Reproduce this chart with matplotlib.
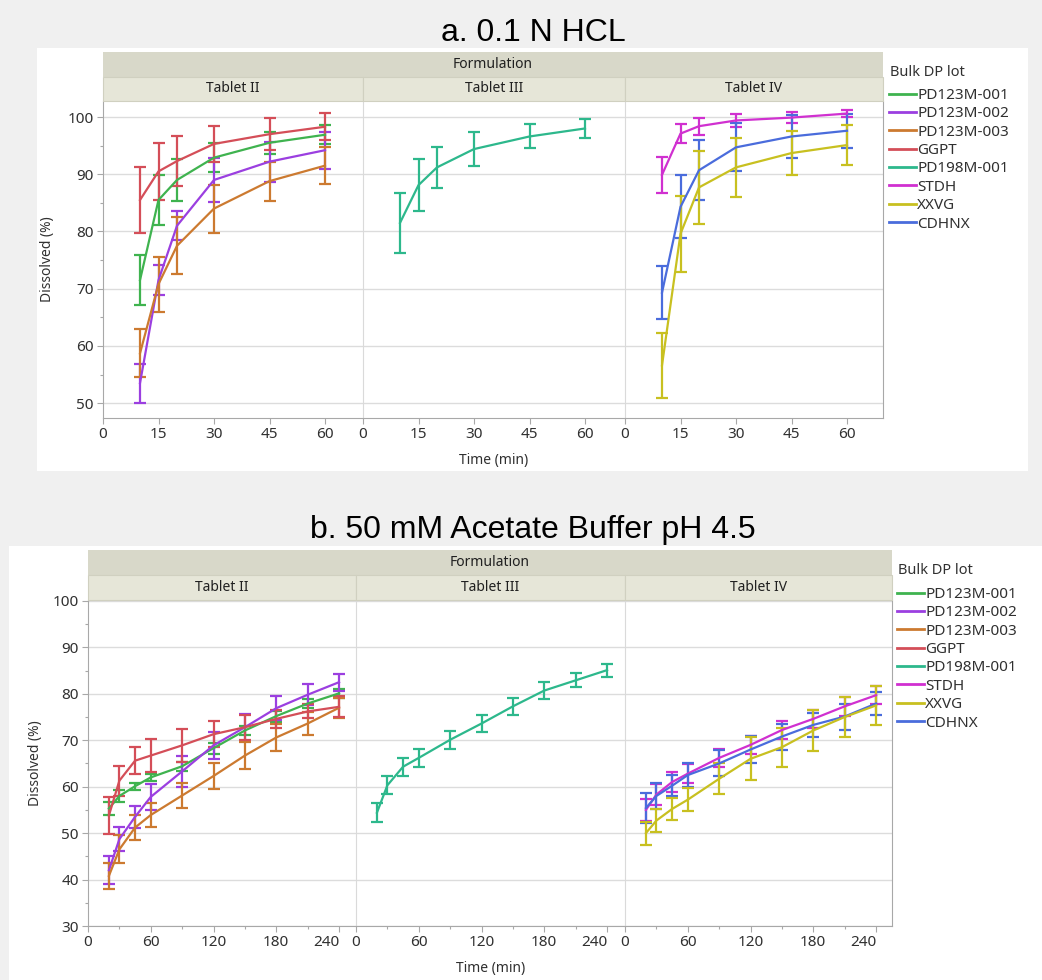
import numpy as np
import matplotlib
matplotlib.use("Agg")
import matplotlib.pyplot as plt
from matplotlib.patches import Rectangle
from matplotlib.lines import Line2D

plt.rcParams["font.family"] = ["Noto Sans", "DejaVu Sans"]

W, H = 1042, 980

lots = ["PD123M-001", "PD123M-002", "PD123M-003", "GGPT", "PD198M-001", "STDH", "XXVG", "CDHNX"]
lot_colors = ["#3fb34f", "#9b3fe0", "#cc7a30", "#d44e58", "#2db88c", "#d030d0", "#c8c020", "#4a6cdc"]
tablets = ["Tablet II", "Tablet III", "Tablet IV"]
tablet_lots = [["PD123M-001", "PD123M-002", "PD123M-003", "GGPT"], ["PD198M-001"], ["STDH", "CDHNX", "XXVG"]]

# a. 0.1 N HCL  (mean, +/- error)
t_hcl = [10, 15, 20, 30, 45, 60]
hcl_001 = [71.5, 85.5, 89.0, 92.9, 95.5, 96.9]
hcl_001_err = [4.4, 4.3, 3.6, 2.5, 1.9, 1.7]
hcl_002 = [53.5, 71.5, 81.0, 89.0, 92.2, 94.2]
hcl_002_err = [3.4, 2.6, 2.5, 3.8, 3.5, 3.2]
hcl_003 = [58.7, 70.8, 77.5, 84.0, 88.8, 91.5]
hcl_003_err = [4.2, 4.8, 5.0, 4.2, 3.4, 3.2]
hcl_ggpt = [85.5, 90.5, 92.3, 95.3, 97.0, 98.3]
hcl_ggpt_err = [5.7, 5.0, 4.3, 3.1, 2.8, 2.4]
hcl_198 = [81.5, 88.1, 91.2, 94.4, 96.6, 98.0]
hcl_198_err = [5.3, 4.6, 3.6, 3.0, 2.1, 1.7]
hcl_stdh = [89.9, 97.1, 98.4, 99.4, 99.9, 100.6]
hcl_stdh_err = [3.2, 1.7, 1.5, 1.1, 1.0, 0.6]
hcl_xxvg = [56.6, 79.6, 87.7, 91.2, 93.7, 95.1]
hcl_xxvg_err = [5.7, 6.6, 6.4, 5.1, 3.8, 3.5]
hcl_cdhnx = [69.3, 84.3, 90.7, 94.7, 96.6, 97.6]
hcl_cdhnx_err = [4.6, 5.5, 5.2, 4.2, 3.8, 3.0]

# b. 50 mM Acetate Buffer pH 4.5
t_ace = [20, 30, 45, 60, 90, 120, 150, 180, 210, 240]
ace_001 = [55.3, 58.0, 60.1, 62.0, 64.4, 68.3, 72.1, 75.2, 77.9, 80.1]
ace_001_err = [1.5, 1.2, 0.8, 0.8, 1.0, 1.2, 1.0, 1.2, 1.0, 0.9]
ace_002 = [42.0, 48.7, 53.5, 57.8, 63.3, 68.9, 72.8, 76.9, 79.8, 82.5]
ace_002_err = [3.0, 2.6, 2.4, 2.8, 3.4, 2.9, 2.9, 2.6, 2.3, 1.8]
ace_003 = [40.8, 46.5, 51.2, 53.9, 58.1, 62.3, 66.7, 70.6, 73.6, 77.0]
ace_003_err = [2.8, 3.0, 2.6, 2.6, 2.7, 2.8, 2.9, 2.9, 2.4, 2.2]
ace_ggpt = [53.8, 61.3, 65.6, 66.7, 68.9, 71.3, 72.8, 74.6, 76.2, 77.2]
ace_ggpt_err = [4.0, 3.2, 2.9, 3.6, 3.6, 2.8, 2.7, 2.0, 1.5, 2.3]
ace_198 = [54.4, 60.3, 64.3, 66.2, 70.1, 73.6, 77.3, 80.7, 82.9, 85.1]
ace_198_err = [2.0, 1.9, 1.9, 1.9, 1.9, 1.9, 1.9, 1.8, 1.5, 1.4]
ace_stdh = [55.0, 58.3, 61.0, 62.8, 66.2, 69.0, 72.2, 74.6, 77.3, 79.7]
ace_stdh_err = [2.3, 2.3, 2.1, 2.1, 2.0, 2.0, 1.9, 1.9, 2.0, 2.0]
ace_xxvg = [50.0, 52.7, 55.2, 57.2, 61.7, 66.0, 68.5, 72.1, 75.0, 77.5]
ace_xxvg_err = [2.5, 2.4, 2.4, 2.5, 3.3, 4.6, 4.2, 4.4, 4.4, 4.2]
ace_cdhnx = [55.4, 58.0, 60.2, 62.5, 65.0, 68.0, 70.8, 73.3, 75.1, 77.9]
ace_cdhnx_err = [3.3, 2.9, 2.3, 2.5, 2.8, 2.9, 2.8, 2.6, 2.8, 2.5]

hcl = {"PD123M-001": (hcl_001, hcl_001_err), "PD123M-002": (hcl_002, hcl_002_err),
       "PD123M-003": (hcl_003, hcl_003_err), "GGPT": (hcl_ggpt, hcl_ggpt_err),
       "PD198M-001": (hcl_198, hcl_198_err), "STDH": (hcl_stdh, hcl_stdh_err),
       "XXVG": (hcl_xxvg, hcl_xxvg_err), "CDHNX": (hcl_cdhnx, hcl_cdhnx_err)}
ace = {"PD123M-001": (ace_001, ace_001_err), "PD123M-002": (ace_002, ace_002_err),
       "PD123M-003": (ace_003, ace_003_err), "GGPT": (ace_ggpt, ace_ggpt_err),
       "PD198M-001": (ace_198, ace_198_err), "STDH": (ace_stdh, ace_stdh_err),
       "XXVG": (ace_xxvg, ace_xxvg_err), "CDHNX": (ace_cdhnx, ace_cdhnx_err)}
color_of = dict(zip(lots, lot_colors))

fig = plt.figure(figsize=(W / 100, H / 100), dpi=100, facecolor="#f0f0f0")


def fx(x):
    return x / W


def fy(y):
    return 1 - y / H


def rect(x0, y0, x1, y1, **kw):
    fig.add_artist(Rectangle((fx(x0), fy(y1)), fx(x1) - fx(x0), fy(y0) - fy(y1),
                             transform=fig.transFigure, **kw))


def block(times, data, xedges, ytop, ybot, strip_top, ylim, yticks, xticks, xminor, px_per_x,
          ylab_x, xlab_y, box, last_right=False):
    rect(*box, facecolor="white", edgecolor="none", zorder=-5)
    # Formulation strip
    rect(xedges[0], strip_top, xedges[-1], strip_top + 25, facecolor="#d8d8c9", edgecolor="none")
    fig.text(fx((xedges[0] + xedges[-1]) / 2), fy(strip_top + 12.5), "Formulation",
             ha="center", va="center", fontsize=10, fontweight="bold", color="#202020")
    axes = []
    for i, tab in enumerate(tablets):
        x0, x1 = xedges[i], xedges[i + 1]
        rect(x0, strip_top + 25, x1, ytop, facecolor="#e6e6d8", edgecolor="#d0d0c0", linewidth=0.8)
        fig.text(fx((x0 + x1) / 2), fy((strip_top + 25 + ytop) / 2), tab,
                 ha="center", va="center", fontsize=10, color="#202020")
        ax = fig.add_axes([fx(x0), fy(ybot), fx(x1) - fx(x0), fy(ytop) - fy(ybot)])
        ax.set_xlim(0, (x1 - x0) / px_per_x)
        ax.set_ylim(*ylim)
        ax.set_xticks(xticks)
        ax.set_xticks(xminor, minor=True)
        ax.set_yticks(yticks)
        ax.set_yticks(np.arange(yticks[0] + 5, yticks[-1], 10), minor=True)
        ax.grid(axis="y", which="major", color="#dcdcdc", linewidth=1.0)
        ax.set_axisbelow(True)
        for s in ["top", "right"]:
            ax.spines[s].set_visible(False)
        ax.spines["bottom"].set_color("#a8a8a8")
        ax.spines["left"].set_color("#a8a8a8" if i == 0 else "#dadada")
        if i == 2:
            ax.spines["right"].set_visible(True)
            ax.spines["right"].set_color("#a8a8a8")
        ax.tick_params(axis="both", which="major", direction="out", length=4.5, width=0.8,
                       color="#a8a8a8", labelsize=11, labelcolor="#303030", pad=2)
        ax.tick_params(axis="both", which="minor", direction="out", length=2.5, width=0.8,
                       color="#a8a8a8")
        if i > 0:
            ax.tick_params(axis="y", which="both", left=False, labelleft=False)
        if last_right:
            ax.get_xticklabels()[-1].set_horizontalalignment("right")
        for lot in tablet_lots[i]:
            m, e = data[lot]
            ax.errorbar(times, m, yerr=e, color=color_of[lot], linewidth=1.6,
                        elinewidth=1.6, capsize=4, capthick=1.6, clip_on=False)
        axes.append(ax)
    fig.text(fx(ylab_x), fy((ytop + ybot) / 2), "Dissolved (%)", rotation=90,
             ha="center", va="center", fontsize=10, color="#303030")
    fig.text(fx((xedges[1] + xedges[2]) / 2), fy(xlab_y), "Time (min)",
             ha="center", va="center", fontsize=10, color="#303030")
    return axes


block(t_hcl, hcl, [103, 363, 625, 883], 101, 418, 52, (47.4, 102.8), np.arange(50, 101, 10),
      [0, 15, 30, 45, 60], [], 3.7, 47, 460, (37, 48, 1028, 471))
block(t_ace, ace, [88, 356, 625, 892], 600, 926, 550, (30, 100.2), np.arange(30, 101, 10),
      [0, 60, 120, 180, 240], [30, 90, 150, 210], 1.046, 35, 968, (9, 546, 1042, 980),
      last_right=True)

fig.text(fx(533), fy(33), "a. 0.1 N HCL", ha="center", va="center", fontsize=23,
         family="Liberation Sans", color="black")
fig.text(fx(533), fy(530), "b. 50 mM Acetate Buffer pH 4.5", ha="center", va="center",
         fontsize=23, family="Liberation Sans", color="black")

handles = [Line2D([], [], color=c, linewidth=2) for c in lot_colors]
for lx, ly, ty in [(889, 88, 72), (897, 587, 571)]:
    fig.text(fx(lx + 1), fy(ty), "Bulk DP lot", ha="left", va="center", fontsize=10.5, color="#303030")
    fig.legend(handles, lots, loc="upper left", bbox_to_anchor=(fx(lx), fy(ly)), frameon=False,
               handlelength=1.75, handletextpad=0.1, labelspacing=0.22, borderpad=0,
               borderaxespad=0, fontsize=11, labelcolor="#303030")

fig.savefig("out.png", dpi=100, facecolor=fig.get_facecolor())
